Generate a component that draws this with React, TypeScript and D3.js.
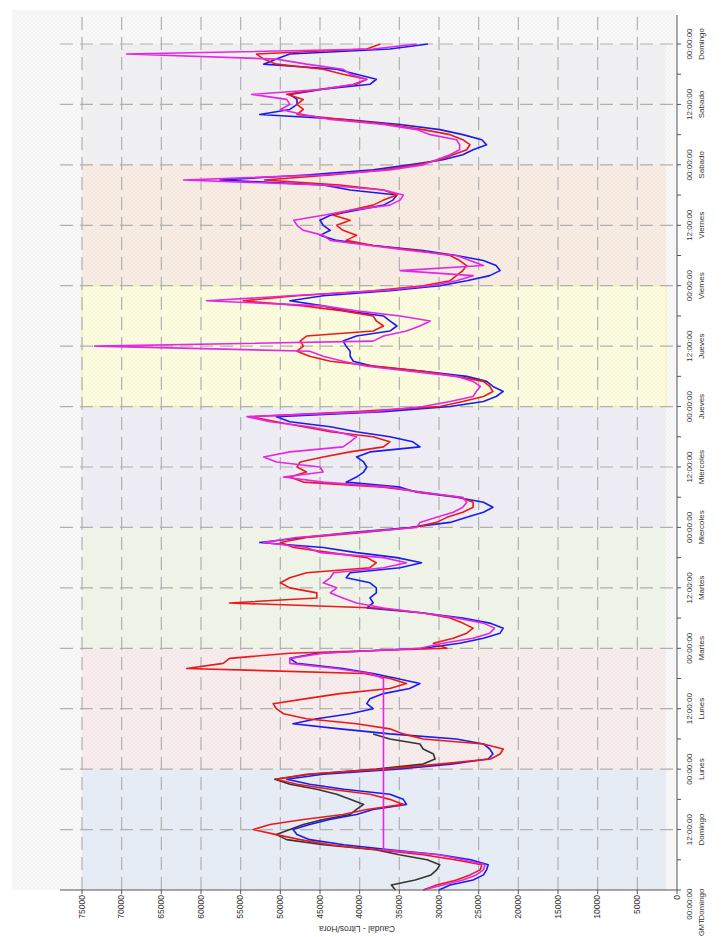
import React, { useEffect, useRef } from 'react';
import * as d3 from 'd3';

// hours from Domingo 00:00 (one reading per hour, 7 days)
const hours = d3.range(0, 169);

const dayNames = ['Domingo', 'Lunes', 'Martes', 'Miercoles', 'Jueves', 'Viernes', 'Sabado', 'Domingo'];
const bandColors = ['#e7edf7', '#f8ecec', '#f0f5e9', '#efeef6', '#fdfddd', '#f8ece3', '#f1f1f3'];
const valueTicks = [0, 5000, 10000, 15000, 20000, 25000, 30000, 35000, 40000, 45000, 50000, 55000, 60000, 65000, 70000, 75000];
const timeTicks = [0, 12, 24, 36, 48, 60, 72, 84, 96, 108, 120, 132, 144, 156, 168];

const redSeries = [
  32000, 30300, 27800, 26100, 24800, 24600, 28000, 32000, 37900, 43700, 47500, 50500, 53400, 51300, 47100, 42100,
  39100, 34500, 36200, 38700, 43700, 47900, 50500, 46700, 37000, 30000, 23500, 22300, 21900, 24400, 32000, 34500,
  36200, 40400, 46700, 49600, 50500, 50900, 46700, 42500, 36200, 34100, 36200, 39500, 61800, 57200, 56400, 48800,
  29000, 30700, 28200, 26500, 25700, 27000, 28600, 32000, 37900, 56400, 45400, 45400, 48800, 50000, 48800, 46700,
  38700, 37900, 39100, 43700, 48300, 50000, 46700, 39500, 33300, 30300, 29000, 27000, 25700, 25700, 27400, 32000,
  37000, 47100, 48800, 46700, 47900, 47500, 44600, 41200, 37000, 36200, 38300, 43700, 47100, 50500, 53800, 40400,
  29900, 27000, 24400, 23200, 23600, 24400, 27800, 32000, 37900, 43700, 46300, 47900, 47100, 47500, 46700, 38300,
  37000, 37900, 38300, 42100, 47100, 54700, 47900, 38300, 32000, 28600, 27800, 27000, 26500, 27400, 28600, 32800,
  38300, 41700, 40400, 42100, 42900, 41200, 43300, 41200, 38300, 37000, 35300, 37000, 42500, 52000, 43700, 37000,
  32800, 29900, 28200, 26500, 26100, 27000, 28600, 32000, 36200, 42100, 47900, 47100, 47900, 47100, 49200, 45000,
  40400, 39100, 42100, 44600, 50500, 52100, 53000, 39100, 37400
];

const blueSeries = [
  30000, 28600, 25700, 24400, 24000, 23800, 26000, 29900, 36200, 42000, 46300, 47900, 48400, 46300, 43800, 40400,
  38300, 34100, 34500, 36200, 42000, 46300, 49200, 44600, 35300, 28500, 23800, 23200, 23600, 24400, 27800, 36200,
  42500, 48400, 45400, 41200, 38300, 39100, 38700, 37000, 33700, 32400, 35300, 38300, 42100, 47900, 48800, 45400,
  32000, 27400, 24400, 22300, 21900, 23600, 27000, 32000, 39100, 38300, 38700, 37900, 37900, 38700, 41700, 41200,
  34900, 32200, 35300, 40400, 44600, 52600, 47100, 41200, 33700, 28600, 26500, 24400, 23200, 24400, 27800, 32800,
  34900, 41700, 40400, 39500, 39100, 39500, 40400, 38700, 32400, 33300, 36200, 40400, 43700, 48800, 50500, 37000,
  28600, 24400, 22800, 21900, 23200, 24000, 26500, 32000, 38300, 40800, 41200, 41200, 41700, 42100, 40400, 36200,
  35300, 36200, 37000, 41700, 44600, 48800, 44600, 36200, 29900, 26500, 23600, 22300, 22800, 24400, 27800, 32000,
  38300, 42900, 45000, 43700, 44600, 45000, 43700, 40400, 37000, 35800, 35300, 41200, 44600, 57600, 46700, 38300,
  33700, 29500, 27000, 25700, 24000, 24600, 27000, 29900, 34900, 41700, 52600, 48800, 47900, 47900, 48800, 44600,
  38700, 37900, 40400, 42900, 52100, 50500, 48800, 36200, 31400
];

const magentaSeries = [
  32000, 29500, 27000, 25300, 24400, 24200, 27000, 30000, 37000, 37000, 37000, 37000, 37000, 37000, 37000, 37000,
  37000, 37000, 37000, 37000, 37000, 37000, 37000, 37000, 37000, 37000, 37000, 37000, 37000, 37000, 37000, 37000,
  37000, 37000, 37000, 37000, 37000, 37000, 37000, 37000, 37000, 37000, 37000, 38700, 42900, 48800, 48800, 44600,
  32400, 29500, 25700, 23600, 23000, 24400, 27800, 32000, 37000, 40400, 42100, 43700, 42900, 44600, 43700, 43300,
  37000, 34100, 37000, 45000, 46700, 52100, 48000, 40400, 32800, 32400, 30300, 28200, 27000, 26500, 27000, 32400,
  36200, 44600, 49600, 44600, 45000, 50500, 52100, 48800, 42100, 41200, 40400, 42900, 46300, 51300, 54200, 38300,
  32000, 28600, 25700, 25300, 24800, 25700, 27800, 33700, 39100, 42100, 44600, 46300, 73400, 38300, 37000, 34100,
  32400, 31100, 34900, 40400, 44600, 59300, 48800, 37400, 31100, 27800, 25700, 34900, 24400, 26100, 27800, 33700,
  38700, 43700, 44600, 47100, 47900, 48300, 44600, 41200, 36200, 34900, 34500, 37000, 44600, 62200, 44600, 36200,
  32000, 30300, 28600, 27400, 27400, 27800, 31100, 32800, 37000, 43700, 47100, 50000, 48800, 49200, 53600, 44600,
  40800, 39100, 41200, 42100, 46700, 50500, 69400, 38300, 32800
];

// black reading only covers the first day and a half
const blackSeries = [
  35500, 36000, 33000, 31000, 30300, 29900, 31500, 35000, 38000, 44600, 49200, 50500, 48800, 47100, 44600, 41200,
  40400, 39500, 41200, 42900, 45400, 48800, 50700, 46300, 37900, 32000, 30500, 30700, 32000, 32400, 36200, 38300
];

const seriesList = [
  { values: blackSeries, color: '#353535' },
  { values: blueSeries, color: '#1a1af2' },
  { values: redSeries, color: '#ee1818' },
  { values: magentaSeries, color: '#e626e6' },
];

const W = 724;
const H = 937;

const Chart = () => {
  const svgRef = useRef(null);

  useEffect(() => {
    const svg = d3.select(svgRef.current);
    svg.selectAll('*').remove();

    // chart is drawn upright, then turned a quarter turn to the left
    const g = svg.append('g').attr('transform', `translate(0, ${H}) rotate(-90)`);

    const x = d3.scaleLinear().domain([0, 168]).range([47, 893]);
    const y = d3.scaleLinear().domain([0, 75000]).range([677, 82]);
    const font = '"Liberation Sans", Arial, sans-serif';

    const defs = svg.append('defs');
    const pat = defs.append('pattern')
      .attr('id', 'hatch')
      .attr('width', 4)
      .attr('height', 4)
      .attr('patternUnits', 'userSpaceOnUse');
    pat.append('path').attr('d', 'M0,4 L4,0 M0,0 L4,4').attr('stroke', '#cfcfcf').attr('stroke-width', 0.5);

    // panel
    g.append('rect')
      .attr('x', 47).attr('y', 12)
      .attr('width', 927 - 47).attr('height', 677 - 12)
      .attr('fill', '#f8f8f8');

    // day bands
    for (let i = 0; i < 7; i++) {
      g.append('rect')
        .attr('x', x(i * 24))
        .attr('y', y(75000))
        .attr('width', x((i + 1) * 24) - x(i * 24))
        .attr('height', 666 - y(75000))
        .attr('fill', bandColors[i]);
    }
    g.append('rect')
      .attr('x', x(96)).attr('y', y(75000))
      .attr('width', x(120) - x(96)).attr('height', 666 - y(75000))
      .attr('fill', 'none').attr('stroke', '#f4f0a0').attr('stroke-width', 1);

    g.append('rect')
      .attr('x', 47).attr('y', 12)
      .attr('width', 927 - 47).attr('height', 677 - 12)
      .attr('fill', 'url(#hatch)')
      .attr('opacity', 0.2);

    // grid
    valueTicks.filter(v => v > 0).forEach(v => {
      g.append('line')
        .attr('x1', 47).attr('x2', 922)
        .attr('y1', y(v)).attr('y2', y(v))
        .attr('stroke', '#b0b0b0').attr('stroke-width', 1.2)
        .attr('stroke-dasharray', '13,7');
    });
    timeTicks.filter(t => t > 0).forEach(t => {
      g.append('line')
        .attr('x1', x(t)).attr('x2', x(t))
        .attr('y1', 60).attr('y2', 677)
        .attr('stroke', '#b0b0b0').attr('stroke-width', 1.2)
        .attr('stroke-dasharray', '13,7');
    });

    // series
    const line = d3.line()
      .x((d, i) => x(hours[i]))
      .y(d => y(d));

    seriesList.forEach(s => {
      g.append('path')
        .datum(s.values)
        .attr('d', line)
        .attr('fill', 'none')
        .attr('stroke', s.color)
        .attr('stroke-width', 1.6)
        .attr('stroke-linejoin', 'round');
    });

    // value axis
    g.append('line')
      .attr('x1', 47).attr('x2', 47).attr('y1', 60).attr('y2', 677)
      .attr('stroke', '#555').attr('stroke-width', 1);
    valueTicks.forEach(v => {
      g.append('line')
        .attr('x1', 43).attr('x2', 47).attr('y1', y(v)).attr('y2', y(v))
        .attr('stroke', '#555');
      g.append('text')
        .attr('x', 42).attr('y', y(v)).attr('dy', '0.33em')
        .attr('text-anchor', 'end')
        .style('font-family', font).style('font-size', '8.5px').attr('fill', '#333')
        .text(v);
    });
    g.append('text')
      .attr('transform', `translate(11, ${357}) rotate(-90)`)
      .attr('text-anchor', 'middle')
      .style('font-family', font).style('font-size', '8.5px').attr('fill', '#333')
      .text('Caudal - Litros/Hora');

    // time axis
    g.append('line')
      .attr('x1', 47).attr('x2', 922).attr('y1', 677).attr('y2', 677)
      .attr('stroke', '#555').attr('stroke-width', 1);
    d3.range(0, 169, 6).forEach(t => {
      g.append('line')
        .attr('x1', x(t)).attr('x2', x(t)).attr('y1', 677).attr('y2', 681)
        .attr('stroke', '#555');
    });
    timeTicks.forEach((t, i) => {
      const hh = t % 24 === 0 ? '00:00:00' : '12:00:00';
      const day = dayNames[Math.floor(t / 24)];
      const first = i === 0;
      const cx = first ? x(t) + 1.5 : x(t);
      const txt = g.append('text')
        .attr('text-anchor', first ? 'end' : 'middle')
        .style('font-family', font).style('font-size', '8px').attr('fill', '#333');
      txt.append('tspan').attr('x', cx).attr('y', 692).text(hh);
      txt.append('tspan').attr('x', cx).attr('y', 704).text(day);
    });
    g.append('text')
      .attr('x', 1).attr('y', 704)
      .attr('text-anchor', 'start')
      .style('font-family', font).style('font-size', '7.5px').attr('fill', '#333')
      .text('GMT');
  }, []);

  return <svg ref={svgRef} width={W} height={H} style={{ position: 'absolute', left: 0, top: 0, background: '#fff' }}></svg>;
};

export default function App() {
  return <Chart />;
}
